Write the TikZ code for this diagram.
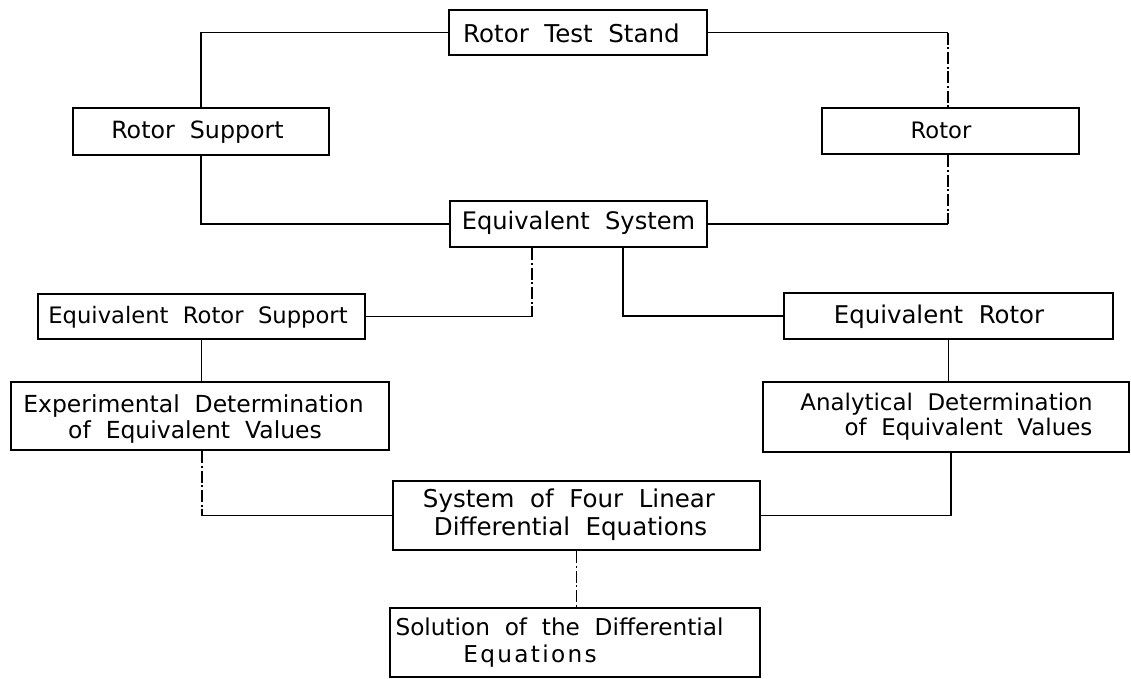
\documentclass[tikz,border=0pt]{standalone}
\usepackage{fontspec}
\setmainfont[WordSpace=2]{DejaVu Sans}
\begin{document}
\begin{tikzpicture}[x=0.75pt,y=-0.75pt,
  box/.style={draw, line width=1.9pt, inner sep=0pt, minimum width=#1},
  lbl/.style={inner sep=0pt, anchor=base, font=\fontsize{#1}{20}\selectfont},
  lbl/.default=17,
  conn/.style={line width=1.1pt},
  faint/.style={line width=1.1pt, dash pattern=on 9pt off 2pt on 1.5pt off 2pt}]
\useasboundingbox (0,0) rectangle (1131,678);

% boxes
\node[box=193.5pt, minimum height=33.75pt] (rts) at (578,32.5) {};
\node[box=192pt,   minimum height=35.25pt] (rs)  at (201,131.5) {};
\node[box=192.75pt,minimum height=34.5pt]  (rot) at (950.5,131) {};
\node[box=192.75pt,minimum height=34.5pt]  (es)  at (578.5,224) {};
\node[box=245.25pt,minimum height=33.75pt] (ers) at (201.5,316.5) {};
\node[box=246.75pt,minimum height=34.5pt]  (er)  at (948.5,316) {};
\node[box=283.5pt, minimum height=51pt]    (exp) at (200,416) {};
\node[box=274.5pt, minimum height=52.5pt]  (ana) at (946,417) {};
\node[box=275.25pt,minimum height=51.75pt] (sys) at (576.5,515.5) {};
\node[box=277.5pt, minimum height=51.75pt] (sol) at (575,642.5) {};

% texts
\node[lbl=18.4] (t1) at (571.5,42) {Rotor Test Stand};
\node[lbl=17.8] (t2) at (197.5,138) {Rotor Support};
\node[lbl=17] (t3) at (941,138) {Rotor};
\node[lbl=18.1] (t4) at (578.5,229) {Equivalent System};
\node[lbl=17] (t5) at (198,323) {Equivalent Rotor Support};
\node[lbl=18.3] (t6) at (939,323) {Equivalent Rotor};
\node[lbl=17.6] (t7a) at (193.5,412) {Experimental Determination};
\node[lbl=17.6] (t7b) at (195,438) {of Equivalent Values};
\node[lbl=17.2] (t8a) at (946.5,410) {Analytical Determination};
\node[lbl=17.2] (t8b) at (968.5,435) {of Equivalent Values};
\node[lbl=18.4] (t9a) at (569,507) {System of Four Linear};
\node[lbl=18.4] (t9b) at (570.5,535) {Differential Equations};
\node[lbl=17.4] (t10a) at (559.5,635) {Solution of the Differential};
\node[lbl=17.4] (t10b) at (530,662) {\addfontfeature{LetterSpace=10}Equations};

% connectors
\coordinate (esl) at ([xshift=-34.9pt]es.south);
\coordinate (esr) at ([xshift=33.4pt]es.south);
\coordinate (exb) at ([xshift=1.5pt]exp.south);
\coordinate (anb) at ([xshift=3.75pt]ana.south);
\coordinate (rotn) at ([xshift=-1.9pt]rot.north);
\coordinate (rots) at ([xshift=-1.9pt]rot.south);
\draw[conn] (rts.west) -| (rs.north);
\draw[conn] (rts.east) -- (rts.east -| rotn);
\draw[faint] (rts.east -| rotn) -- (rotn);
\draw[conn] (rs.south) |- (es.west);
\draw[faint] (rots) -- (rots |- es.east);
\draw[conn] (rots |- es.east) -- (es.east);
\draw[faint] (esl) -- (esl |- ers.east);
\draw[conn] (esl |- ers.east) -- (ers.east);
\draw[conn] (esr) |- (er.west);
\draw[conn] (ers.south) -- (ers.south |- exp.north);
\draw[conn] (er.south) -- (er.south |- ana.north);
\draw[faint] (exb) -- (exb |- sys.west);
\draw[conn] (exb |- sys.west) -- (sys.west);
\draw[conn] (anb) |- (sys.east);
\draw[faint] (sys.south) -- (sys.south |- sol.north);
\end{tikzpicture}
\end{document}
